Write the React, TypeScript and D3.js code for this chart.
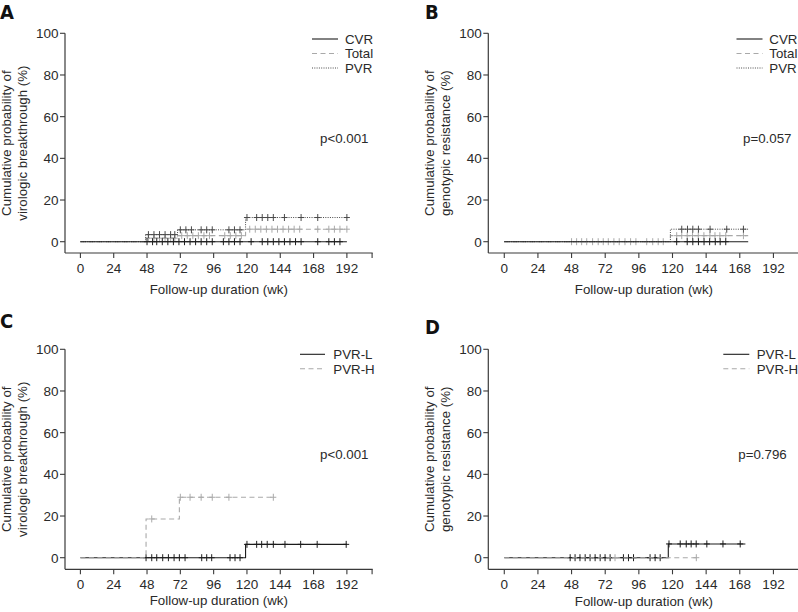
import React from "react";
import * as d3 from "d3";

// ---------- shared tick values ----------
const weekTicks = [0, 24, 48, 72, 96, 120, 144, 168, 192];
const pctTicks = [0, 20, 40, 60, 80, 100];

// ---------- Panel A: virologic breakthrough (CVR / Total / PVR) ----------
const aCvrSteps = [[0, 0]];
const aCvrEnd = 192;
const aCvrCensor = [48, 52, 55, 59, 63, 67, 71, 75, 79, 83, 87, 91, 95, 103, 107, 111, 115, 123, 131, 135, 139, 143, 147, 151, 155, 159, 171, 179, 183, 187];
const aTotalSteps = [[0, 0], [47, 1.7], [70, 2.9], [119, 6.0]];
const aTotalEnd = 192;
const aTotalCensor = [49, 53, 57, 61, 65, 68, 73, 77, 81, 85, 89, 93, 104, 108, 112, 116, 122, 126, 130, 134, 138, 142, 146, 150, 154, 158, 171, 179, 183, 187, 192];
const aPvrSteps = [[0, 0], [47, 3.4], [70, 5.7], [119, 11.6]];
const aPvrEnd = 192;
const aPvrCensor = [49, 53, 57, 61, 65, 68, 72, 76, 80, 87, 91, 95, 107, 111, 115, 120, 127, 131, 135, 139, 147, 159, 171, 192];

// ---------- Panel B: genotypic resistance (CVR / Total / PVR) ----------
const bCvrSteps = [[0, 0]];
const bCvrEnd = 174;
const bCvrCensor = [123, 130.5, 134.5, 138.5, 142.5, 146.5, 150.5, 154, 158];
const bTotalSteps = [[0, 0], [118.5, 2.9]];
const bTotalEnd = 174;
const bTotalCensor = [48, 51.6, 55.2, 58.8, 63, 67, 70.6, 74.2, 78.2, 82, 86.1, 90.1, 93.9, 101.6, 105.9, 109.8, 113.4, 123, 126.6, 130.5, 134.3, 138.4, 142.4, 146.7, 150.3, 153.8, 158, 170.6];
const bPvrSteps = [[0, 0], [118.5, 6.0]];
const bPvrEnd = 174;
const bPvrCensor = [126.6, 130.7, 134.5, 138.5, 146.8, 158.7, 170.6];

// ---------- Panel C: virologic breakthrough (PVR-L / PVR-H) ----------
const cLowSteps = [[0, 0], [119, 6.4]];
const cLowEnd = 192;
const cLowCensor = [47.3, 51.4, 55, 59.3, 63.4, 67.5, 71.3, 75.4, 87.4, 91, 94.6, 107.8, 111.4, 115, 120, 127, 130.6, 134.6, 139, 147.4, 158.7, 170.6, 191.5];
const cHighSteps = [[0, 0], [47.3, 18.6], [71.3, 29.0]];
const cHighEnd = 140;
const cHighCensor = [51.4, 72, 79, 87, 95, 107, 139];

// ---------- Panel D: genotypic resistance (PVR-L / PVR-H) ----------
const dLowSteps = [[0, 0], [117, 6.6]];
const dLowEnd = 172;
const dLowCensor = [47, 50.5, 54, 57.7, 61.2, 64.8, 68.4, 71.9, 75.5, 85, 88.6, 92.2, 104, 107.6, 111.2, 117.5, 125.5, 129.8, 133.3, 136.9, 144.5, 156, 168.3];
const dHighSteps = [[0, 0]];
const dHighEnd = 137;
const dHighCensor = [79, 137];

// ---------- text ----------
const legendGroupLabels = ["CVR", "Total", "PVR"];
const legendLevelLabels = ["PVR-L", "PVR-H"];
const pValues = ["p<0.001", "p=0.057", "p<0.001", "p=0.796"];
const yTitleVirologic = ["Cumulative probability of", "virologic breakthrough (%)"];
const yTitleGenotypic = ["Cumulative probability of", "genotypic resistance (%)"];
const xTitle = "Follow-up duration (wk)";
const panelLetters = ["A", "B", "C", "D"];

// ---------- styles ----------
const FONT = "'Liberation Sans', Arial, Helvetica, sans-serif";
const TEXT = "#2a2a2a";
const AXIS = "#3a3a3a";
const STYLE: any = {
  solid: { stroke: "#1c1c1c", dash: undefined, width: 1.1 },
  dashed: { stroke: "#a9a9a9", dash: "5 3.5", width: 1.1 },
  dotted: { stroke: "#4a4a4a", dash: "1 1.3", width: 1 },
};

function valueAt(steps: number[][], t: number) {
  let v = steps[0][1];
  for (const [st, sv] of steps) if (st <= t) v = sv;
  return v;
}

function Curve({ x, y, steps, end, censor, kind }: any) {
  const st = STYLE[kind];
  const pts = [...steps, [end, steps[steps.length - 1][1]]];
  const line = d3
    .line<number[]>()
    .x((d) => x(d[0]))
    .y((d) => y(d[1]))
    .curve(d3.curveStepAfter);
  return (
    <g>
      <path d={line(pts) || ""} fill="none" stroke={st.stroke} strokeWidth={st.width} strokeDasharray={st.dash} />
      {censor.map((t: number, i: number) => {
        const cx = x(t);
        const cy = y(valueAt(steps, t));
        return (
          <path
            key={i}
            d={`M${cx},${cy - 3.5}V${cy + 3.5}M${cx - 3},${cy}H${cx + 3}`}
            stroke={st.stroke}
            strokeWidth={1}
            fill="none"
          />
        );
      })}
    </g>
  );
}

function Panel(p: any) {
  const x = d3.scaleLinear().domain([p.wkMin, p.wkMax]).range([p.xLeft, p.xRight]);
  const y = d3.scaleLinear().domain([0, 100]).range([p.y0, p.yTop]);
  const xTitleCx = (p.xLeft + p.xRight) / 2;
  const yTitleCy = (p.yTop + p.axisY) / 2;
  return (
    <g fontFamily={FONT} fill={TEXT}>
      {/* panel letter */}
      <text
        x={p.letterX}
        y={p.letterY}
        fontFamily="'DejaVu Sans Condensed', 'DejaVu Sans', sans-serif"
        fontStretch="condensed"
        fontWeight="bold"
        fontSize={20}
        fill="#111"
      >
        {p.letter}
      </text>

      {/* axes */}
      <line x1={p.xLeft} x2={p.xLeft} y1={p.yTop} y2={p.axisY} stroke={AXIS} strokeWidth={1.2} />
      <line x1={p.xLeft} x2={p.xRight} y1={p.axisY} y2={p.axisY} stroke={AXIS} strokeWidth={1.2} />
      {pctTicks.map((v) => (
        <g key={"y" + v}>
          <line x1={p.xLeft - 5} x2={p.xLeft} y1={y(v)} y2={y(v)} stroke={AXIS} strokeWidth={1.1} />
          <text x={p.xLeft - 6.5} y={y(v)} dy="0.36em" textAnchor="end" fontSize={13.5}>
            {v}
          </text>
        </g>
      ))}
      {weekTicks.map((w) => (
        <g key={"x" + w}>
          <line x1={x(w)} x2={x(w)} y1={p.axisY} y2={p.axisY + 5} stroke={AXIS} strokeWidth={1.1} />
          <text x={x(w)} y={p.axisY + 19.5} textAnchor="middle" fontSize={13.5}>
            {w}
          </text>
        </g>
      ))}
      <line x1={p.xRight - 0.6} x2={p.xRight - 0.6} y1={p.axisY} y2={p.axisY + 5} stroke={AXIS} strokeWidth={1.1} />

      {/* axis titles */}
      <text x={xTitleCx} y={p.xTitleY} textAnchor="middle" fontSize={13.3}>
        {xTitle}
      </text>
      {p.yTitle.map((s: string, i: number) => (
        <text
          key={i}
          transform={`translate(${p.yTitleX[i]},${yTitleCy}) rotate(-90)`}
          textAnchor="middle"
          fontSize={13.3}
        >
          {s}
        </text>
      ))}

      {/* curves */}
      {p.series.map((s: any, i: number) => (
        <Curve key={i} x={x} y={y} {...s} />
      ))}

      {/* legend */}
      {p.legend.map((lab: string, i: number) => {
        const st = STYLE[p.legendKinds[i]];
        const ly = p.legendY0 + i * p.legendDy;
        return (
          <g key={lab}>
            <line x1={p.legendX1} x2={p.legendX2} y1={ly} y2={ly} stroke={st.stroke} strokeWidth={st.width} strokeDasharray={st.dash} />
            <text x={p.legendTx} y={ly + 4.8} fontSize={13.3}>
              {lab}
            </text>
          </g>
        );
      })}

      {/* p value */}
      <text x={p.pX} y={p.pY} fontSize={13.3}>
        {p.pText}
      </text>
    </g>
  );
}

export default function App() {
  const left = { xLeft: 65, xRight: 372.7, wkMin: -11.1, wkMax: 210.6 };
  const right = { xLeft: 488.3, xRight: 799.5, wkMin: -11.4, wkMax: 210.6 };
  const top = { yTop: 33.3, y0: 241.7, axisY: 253 };
  const bottom = { yTop: 349.3, y0: 557.7, axisY: 569.3 };

  const groupSeries = (cvr: any, total: any, pvr: any) => [
    { ...total, kind: "dashed" },
    { ...pvr, kind: "dotted" },
    { ...cvr, kind: "solid" },
  ];
  const levelSeries = (low: any, high: any) => [
    { ...low, kind: "solid" },
    { ...high, kind: "dashed" },
  ];

  return (
    <svg width={798} height={612} style={{ position: "absolute", left: 0, top: 0, background: "#fff" }}>
      <rect x={0} y={0} width={798} height={612} fill="#fff" />
      <Panel
        {...left}
        {...top}
        letter={panelLetters[0]}
        letterX={0}
        letterY={19}
        xTitleY={293.5}
        yTitle={yTitleVirologic}
        yTitleX={[10.5, 26.5]}
        series={groupSeries(
          { steps: aCvrSteps, end: aCvrEnd, censor: aCvrCensor },
          { steps: aTotalSteps, end: aTotalEnd, censor: aTotalCensor },
          { steps: aPvrSteps, end: aPvrEnd, censor: aPvrCensor }
        )}
        legend={legendGroupLabels}
        legendKinds={["solid", "dashed", "dotted"]}
        legendX1={312}
        legendX2={338}
        legendTx={345}
        legendY0={39}
        legendDy={14.5}
        pText={pValues[0]}
        pX={320}
        pY={143}
      />
      <Panel
        {...right}
        {...top}
        letter={panelLetters[1]}
        letterX={425}
        letterY={19}
        xTitleY={293.5}
        yTitle={yTitleGenotypic}
        yTitleX={[433.5, 449.5]}
        series={groupSeries(
          { steps: bCvrSteps, end: bCvrEnd, censor: bCvrCensor },
          { steps: bTotalSteps, end: bTotalEnd, censor: bTotalCensor },
          { steps: bPvrSteps, end: bPvrEnd, censor: bPvrCensor }
        )}
        legend={legendGroupLabels}
        legendKinds={["solid", "dashed", "dotted"]}
        legendX1={736.5}
        legendX2={762.5}
        legendTx={769.3}
        legendY0={39}
        legendDy={14.5}
        pText={pValues[1]}
        pX={743}
        pY={143}
      />
      <Panel
        {...left}
        {...bottom}
        letter={panelLetters[2]}
        letterX={0}
        letterY={327.7}
        xTitleY={605}
        yTitle={yTitleVirologic}
        yTitleX={[10.5, 26.5]}
        series={levelSeries(
          { steps: cLowSteps, end: cLowEnd, censor: cLowCensor },
          { steps: cHighSteps, end: cHighEnd, censor: cHighCensor }
        )}
        legend={legendLevelLabels}
        legendKinds={["solid", "dashed"]}
        legendX1={300}
        legendX2={325}
        legendTx={333.3}
        legendY0={354.3}
        legendDy={14.4}
        pText={pValues[2]}
        pX={320}
        pY={459.3}
      />
      <Panel
        {...right}
        {...bottom}
        letter={panelLetters[3]}
        letterX={425}
        letterY={334.3}
        xTitleY={606}
        yTitle={yTitleGenotypic}
        yTitleX={[433.5, 449.5]}
        series={levelSeries(
          { steps: dLowSteps, end: dLowEnd, censor: dLowCensor },
          { steps: dHighSteps, end: dHighEnd, censor: dHighCensor }
        )}
        legend={legendLevelLabels}
        legendKinds={["solid", "dashed"]}
        legendX1={723.3}
        legendX2={749.3}
        legendTx={756.7}
        legendY0={354.3}
        legendDy={14.4}
        pText={pValues[3]}
        pX={738.3}
        pY={459.3}
      />
    </svg>
  );
}
